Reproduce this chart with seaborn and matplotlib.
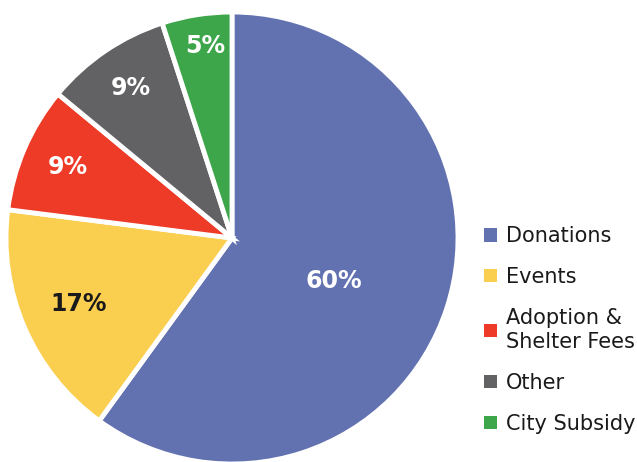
import numpy as np
import matplotlib
matplotlib.use("Agg")
import matplotlib.pyplot as plt
import matplotlib.patches as mpatches
import seaborn as sns

# =====================
# DATA
# =====================
categories = ["Donations", "Events", "Adoption &\nShelter Fees", "Other", "City Subsidy"]
shares = [60, 17, 9, 9, 5]
pct_labels = ["60%", "17%", "9%", "9%", "5%"]
colors = ["#6271B0", "#FACF50", "#EE3B27", "#626264", "#3DA64A"]
label_colors = ["white", "#1a1a1a", "white", "white", "white"]
label_radius = [0.49, 0.74, 0.79, 0.80, 0.86]
label_shift = [-5, 0, 0, 0, -1]   # degrees, nudges label off the exact mid angle

# =====================
# STYLE
# =====================
sns.set_theme(style="white")
plt.rcParams['font.family'] = ['DejaVu Sans']

fig = plt.figure(figsize=(6.37, 4.62), dpi=100)
ax = fig.add_axes([6 / 637, -2 / 462, 452 / 637, 452 / 462])

wedges, _ = ax.pie(shares, colors=colors, startangle=90, counterclock=False,
                   radius=1.0, wedgeprops=dict(edgecolor="white", linewidth=3.5))
ax.set_xlim(-1, 1)
ax.set_ylim(-1, 1)
ax.set_aspect("equal")
ax.axis("off")

# percentage labels at the middle angle of each wedge
for w, txt, col, r, s in zip(wedges, pct_labels, label_colors, label_radius, label_shift):
    mid = np.deg2rad((w.theta1 + w.theta2) / 2 + s)
    ax.text(r * np.cos(mid), r * np.sin(mid), txt, ha="center", va="center",
            fontsize=17, fontweight="bold", color=col)

# =====================
# LEGEND
# =====================
handles = [mpatches.Patch(facecolor=c, edgecolor="none") for c in colors]
leg = fig.legend(handles, categories, loc="upper left", bbox_to_anchor=(476 / 637, 1 - 218 / 462),
                 frameon=False, fontsize=15, handlelength=0.6, handleheight=0.6,
                 handletextpad=0.45, labelspacing=1.0, borderaxespad=0)
for t in leg.get_texts():
    t.set_linespacing(1.25)
    t.set_color("#1a1a1a")

plt.savefig("out.png", dpi=100)
plt.close()
